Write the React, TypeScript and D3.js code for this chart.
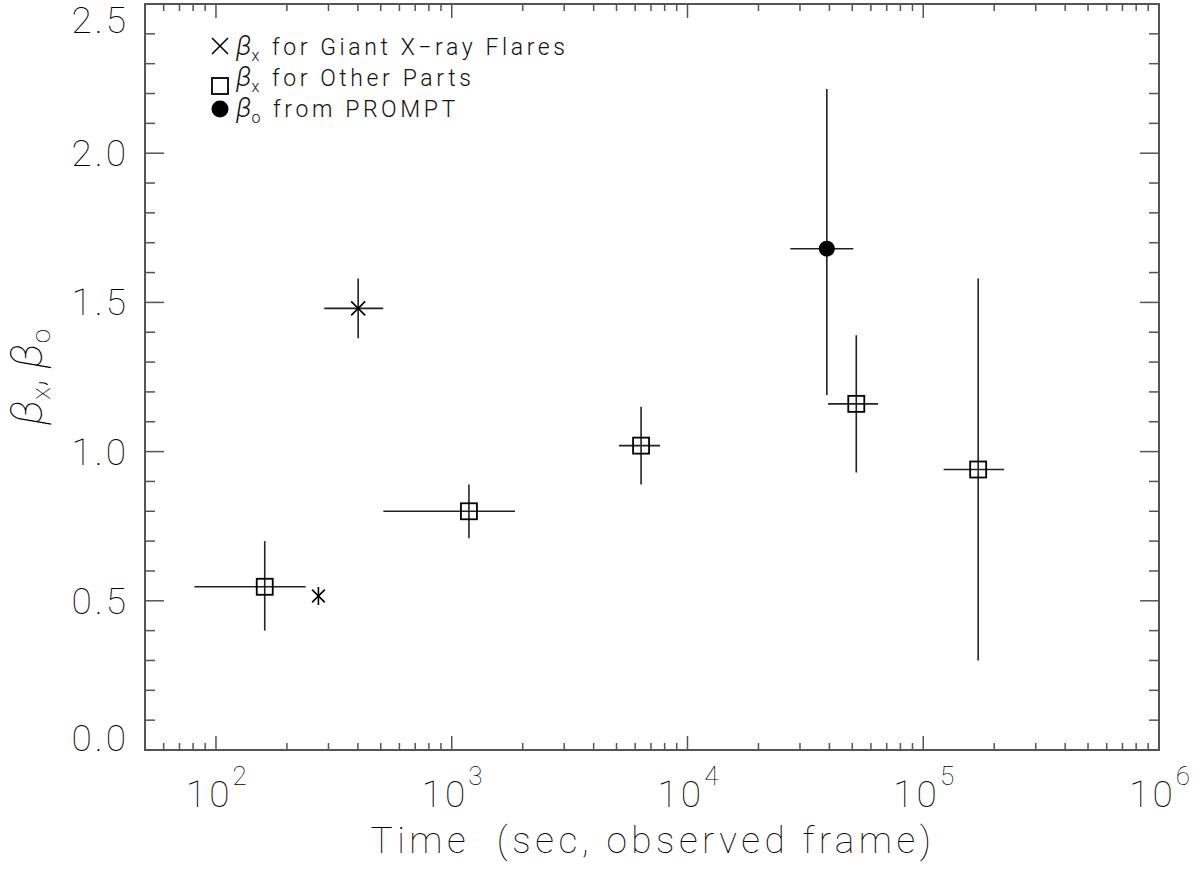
import React from 'react';
import * as d3 from 'd3';

// time (s), beta, and error-bar extents
const flareT = [401];
const flareTLo = [288];
const flareTHi = [512];
const flareB = [1.48];
const flareBLo = [1.38];
const flareBHi = [1.58];

const otherT = [161, 1183, 6356, 52000, 171000];
const otherTLo = [81, 513, 5117, 39500, 122000];
const otherTHi = [240, 1854, 7655, 64300, 220000];
const otherB = [0.547, 0.80, 1.02, 1.16, 0.94];
const otherBLo = [0.40, 0.71, 0.89, 0.93, 0.30];
const otherBHi = [0.70, 0.89, 1.15, 1.39, 1.58];

const promptT = [39000];
const promptTLo = [27300];
const promptTHi = [50500];
const promptB = [1.68];
const promptBLo = [1.19];
const promptBHi = [2.215];

// the lone asterisk point, no error bars
const starT = [272];
const starB = [0.516];

const yTickLabels = ['0.0', '0.5', '1.0', '1.5', '2.0', '2.5'];
const xTickExps = ['2', '3', '4', '5', '6'];
const legendLabels = ['for Giant X\u2212ray Flares', 'for Other Parts', 'from PROMPT'];
const legendSubs = ['x', 'x', 'o'];

const W = 1204, H = 869;
const margin = { left: 145, right: 45, top: 4, bottom: 119 };
const FONT = 'Roboto, "DejaVu Sans", sans-serif';
const AXIS = '#555';
const INK = '#222';

export default function App() {
  const x = d3.scaleLog().domain([50, 1e6]).range([margin.left, W - margin.right]);
  const y = d3.scaleLinear().domain([0, 2.5]).range([H - margin.bottom, margin.top]);
  const x0 = margin.left, x1 = W - margin.right, y0 = H - margin.bottom, y1 = margin.top;

  const xt = x.ticks();
  const yt = y.ticks(25);
  const isDecade = (v: number) => Math.abs(Math.log10(v) - Math.round(Math.log10(v))) < 1e-9;
  const isHalf = (v: number) => Math.abs(v * 2 - Math.round(v * 2)) < 1e-9;

  const errBars = (t: number[], tl: number[], th: number[], b: number[], bl: number[], bh: number[], key: string) =>
    t.map((_, i) => (
      <g key={key + i} stroke={INK} strokeWidth={1.6}>
        <line x1={x(tl[i])} x2={x(th[i])} y1={y(b[i])} y2={y(b[i])} />
        <line x1={x(t[i])} x2={x(t[i])} y1={y(bl[i])} y2={y(bh[i])} />
      </g>
    ));

  const cross = (cx: number, cy: number, r: number, k: string) => (
    <g key={k} stroke="#000" strokeWidth={1.6}>
      <line x1={cx - r} x2={cx + r} y1={cy - r} y2={cy + r} />
      <line x1={cx - r} x2={cx + r} y1={cy + r} y2={cy - r} />
    </g>
  );

  const star = (cx: number, cy: number, r: number, k: string) => {
    const a = r * Math.sin(Math.PI / 4), b = r * Math.cos(Math.PI / 4);
    return (
      <g key={k} stroke="#000" strokeWidth={1.6}>
        <line x1={cx} x2={cx} y1={cy - r} y2={cy + r} />
        <line x1={cx - a} x2={cx + a} y1={cy - b} y2={cy + b} />
        <line x1={cx - a} x2={cx + a} y1={cy + b} y2={cy - b} />
      </g>
    );
  };

  const legendY = [55, 86, 117];
  // IDL keeps the end labels inside the frame
  const yLabelBase = (s: string) => (s === '2.5' ? 33 : s === '0.0' ? 751 : y(+s) + 13);

  return (
    <svg width={W} height={H} style={{ position: 'absolute', left: 0, top: 0, background: '#fff' }}
      fontFamily={FONT}>
      {/* frame */}
      <rect x={x0} y={y1} width={x1 - x0} height={y0 - y1} fill="none" stroke={AXIS} strokeWidth={2} />

      {/* x ticks, bottom and top */}
      {xt.map((v, i) => {
        const len = isDecade(v) ? 14 : 7;
        return (
          <g key={'xt' + i} stroke={AXIS} strokeWidth={1.5}>
            <line x1={x(v)} x2={x(v)} y1={y0} y2={y0 - len} />
            <line x1={x(v)} x2={x(v)} y1={y1} y2={y1 + len} />
          </g>
        );
      })}
      {/* y ticks, left and right */}
      {yt.map((v, i) => {
        const len = isHalf(v) ? 19 : 10;
        return (
          <g key={'yt' + i} stroke={AXIS} strokeWidth={1.5}>
            <line x1={x0} x2={x0 + len} y1={y(v)} y2={y(v)} />
            <line x1={x1} x2={x1 - len} y1={y(v)} y2={y(v)} />
          </g>
        );
      })}

      {/* y tick labels */}
      {yTickLabels.map((s) => (
        <text key={'yl' + s} x={x0 - 16} y={yLabelBase(s)} textAnchor="end" fontSize={37}
          fontWeight={100} letterSpacing={3} fill="#000">{s}</text>
      ))}
      {/* x tick labels */}
      {xTickExps.map((e) => (
        <text key={'xl' + e} x={x(Math.pow(10, +e)) + 2} y={807} textAnchor="middle" fontSize={37}
          fontWeight={100} letterSpacing={3} fill="#000">
          10<tspan dy={-22} fontSize={26}>{e}</tspan>
        </text>
      ))}

      {/* axis titles */}
      <text x={653} y={853} textAnchor="middle" fontSize={37} fontWeight={100} letterSpacing={4.5}
        fill="#000" style={{ whiteSpace: 'pre' }}>{'Time  (sec, observed frame)'}</text>
      <text transform={`translate(42,${(y0 + y1) / 2}) rotate(-90)`} textAnchor="middle" fontSize={44}
        fontWeight={100} fill="#000">
        <tspan fontStyle="italic">β</tspan><tspan fontSize={26} dy={8}>x</tspan>
        <tspan dy={-8}>, </tspan>
        <tspan fontStyle="italic">β</tspan><tspan fontSize={26} dy={8}>o</tspan>
      </text>

      {/* error bars */}
      {errBars(otherT, otherTLo, otherTHi, otherB, otherBLo, otherBHi, 'eo')}
      {errBars(flareT, flareTLo, flareTHi, flareB, flareBLo, flareBHi, 'ef')}
      {errBars(promptT, promptTLo, promptTHi, promptB, promptBLo, promptBHi, 'ep')}

      {/* markers */}
      {otherT.map((t, i) => (
        <rect key={'sq' + i} x={x(t) - 8} y={y(otherB[i]) - 8} width={16} height={16} fill="none"
          stroke="#000" strokeWidth={1.8} />
      ))}
      {flareT.map((t, i) => cross(x(t), y(flareB[i]), 7, 'fx' + i))}
      {starT.map((t, i) => star(x(t), y(starB[i]), 9, 'st' + i))}
      {promptT.map((t, i) => (
        <circle key={'pc' + i} cx={x(t)} cy={y(promptB[i])} r={8} fill="#000" />
      ))}

      {/* legend */}
      {cross(220, 46, 8, 'lg0')}
      <rect x={212} y={78} width={16} height={16} fill="none" stroke="#000" strokeWidth={1.8} />
      <circle cx={220} cy={109} r={8.5} fill="#000" />
      {legendLabels.map((s, i) => (
        <text key={'lg' + i} x={236} y={legendY[i]} fontSize={23} fontWeight={300} letterSpacing={3.6}
          fill="#111">
          <tspan fontStyle="italic" fontSize={27} letterSpacing={0}>β</tspan>
          <tspan fontSize={16} dy={6}>{legendSubs[i]}</tspan>
          <tspan dy={-6} dx={9}>{s}</tspan>
        </text>
      ))}
    </svg>
  );
}
